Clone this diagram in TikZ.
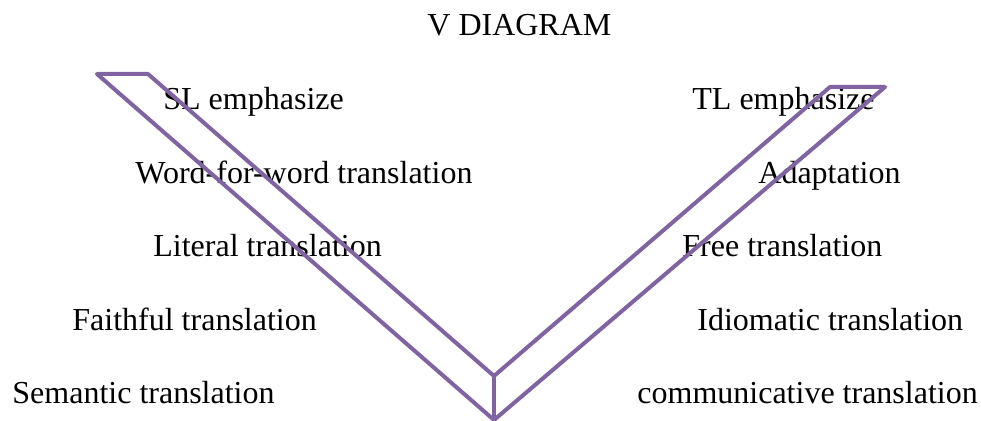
\documentclass[tikz,border=0pt]{standalone}
\usepackage{fontspec}
\setmainfont{Liberation Serif}
\definecolor{vpurple}{HTML}{8064A2}
\begin{document}
\begin{tikzpicture}[x=0.5pt,y=-0.5pt,
  lbl/.style={anchor=base west,inner sep=0pt,font=\fontsize{16}{19}\selectfont},
  vline/.style={draw=vpurple,line width=2pt,line join=round,line cap=round}]
\useasboundingbox (0,0) rectangle (981,421);
% texts
\node[lbl] (title) at (427,36) {V DIAGRAM};
\node[lbl] (sl) at (163,110) {SL emphasize};
\node[lbl] (tl) at (692,110) {TL emphasize};
\node[lbl] (wfw) at (135,184) {Word-for-word translation};
\node[lbl] (adp) at (758,184) {Adaptation};
\node[lbl] (lit) at (153,257) {Literal translation};
\node[lbl] (free) at (682,257) {Free translation};
\node[lbl] (faith) at (72,331) {Faithful translation};
\node[lbl] (idio) at (697,331) {Idiomatic translation};
\node[lbl] (sem) at (12,404) {Semantic translation};
\node[lbl] (comm) at (637,404) {communicative translation};
% V shape (drawn over the texts)
\coordinate (a) at (97,74);
\coordinate (b) at (148,74);
\coordinate (c) at (494,376);
\coordinate (d) at (830,87);
\coordinate (e) at (885,87);
\coordinate (f) at (494,420);
\draw[vline] (a) -- (b) -- (c) -- (d) -- (e) -- (f) -- cycle;
\draw[vline] (c) -- (f);
\end{tikzpicture}
\end{document}
